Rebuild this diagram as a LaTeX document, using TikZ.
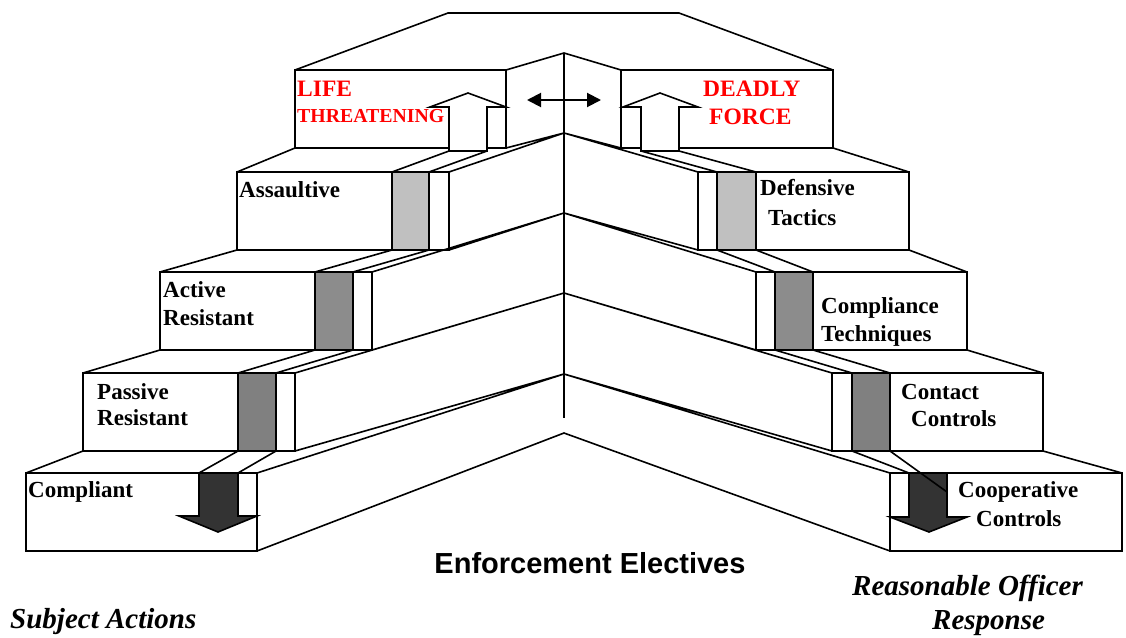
\documentclass[tikz,border=0pt]{standalone}
\usepackage{fontspec}
\setmainfont{Liberation Serif}
\newfontfamily\headfont{Liberation Sans}
\usetikzlibrary{arrows.meta,positioning,calc}

\definecolor{stepgreyA}{HTML}{C0C0C0}
\definecolor{stepgreyB}{HTML}{8C8C8C}
\definecolor{stepgreyC}{HTML}{808080}
\definecolor{stepdark}{HTML}{333333}

\tikzset{
  stepbox/.style={draw, line width=1.6pt, fill=white, inner sep=0pt, outer sep=0pt,
    anchor=north west, minimum width=#1, minimum height=78pt},
  stepbox/.default=211pt,
  colbox/.style={draw, line width=1.6pt, inner sep=0pt, outer sep=0pt,
    anchor=north west, minimum width=38pt, minimum height=78pt},
  ghost/.style={inner sep=0pt, outer sep=0pt, minimum width=38pt},
  edge/.style={line width=1.6pt},
  steplabel/.style={font=\fontsize{23}{26}\selectfont\bfseries, anchor=base west, inner sep=0pt},
  redlabel/.style={font=\fontsize{23.5}{26}\selectfont\bfseries, text=red, anchor=base west, inner sep=0pt},
  bigitalic/.style={font=\fontsize{29}{32}\selectfont\bfseries\itshape, anchor=base west, inner sep=0pt},
}

\begin{document}
\begin{tikzpicture}[x=1pt, y=-1pt]
\useasboundingbox (0,0) rectangle (1126,637);

% centre ridge points
\coordinate (A0) at (564,53);
\coordinate (A1) at (564,133);
\coordinate (A2) at (564,213);
\coordinate (A3) at (564,293);
\coordinate (A4) at (564,374);
\coordinate (A5) at (564,433);
\coordinate (Aend) at (564,418);
\coordinate (roofL) at (448,13);
\coordinate (roofR) at (679,13);

% left stair: subject actions
\node[stepbox] (L1) at (295,70) {};
\node[stepbox=212pt] (L2) at (237,172) {};
\node[stepbox=212pt] (L3) at (160,272) {};
\node[stepbox=212pt] (L4) at (83,373) {};
\node[stepbox=231pt] (L5) at (26,473) {};

% right stair: officer response
\node[stepbox=212pt] (R1) at (621,70) {};
\node[stepbox] (R2) at (698,172) {};
\node[stepbox] (R3) at (756,272) {};
\node[stepbox] (R4) at (832,373) {};
\node[stepbox=232pt] (R5) at (890,473) {};

% grey columns
\node[colbox, fill=stepgreyA, minimum width=37pt] (L2c) at (392,172) {};
\node[colbox, fill=stepgreyB] (L3c) at (315,272) {};
\node[colbox, fill=stepgreyC] (L4c) at (238,373) {};
\node[colbox, fill=stepgreyA, minimum width=39pt] (R2c) at (717,172) {};
\node[colbox, fill=stepgreyB] (R3c) at (775,272) {};
\node[colbox, fill=stepgreyC] (R4c) at (852,373) {};

% arrow shafts (only used as anchors)
\node[ghost, minimum height=44pt, anchor=south west] (L1c) at (449,151) {};
\node[ghost, minimum height=44pt, anchor=south west] (R1c) at (641,151) {};
\node[ghost, minimum width=39pt, minimum height=43pt, anchor=north west] (L5c) at (199,473) {};
\node[ghost, minimum height=44pt, anchor=north west] (R5c) at (909,473) {};
\coordinate (R5cross) at (947,492);

% roof and ridge
\draw[edge] (L1.north west) -- (roofL) -- (roofR) -- (R1.north east);
\draw[edge] (L1.north east) -- (A0) -- (R1.north west);
\draw[edge] (A0) -- (Aend);

% steps receding to the centre
\foreach \u/\l/\a in {L1/L2/A1, L2/L3/A2, L3/L4/A3, L4/L5/A4} {
  \draw[edge] (\u.south west) -- (\l.north west);
  \draw[edge] (\u.south east) -- (\a) -- (\l.north east);
}
\foreach \u/\l/\a in {R1/R2/A1, R2/R3/A2, R3/R4/A3, R4/R5/A4} {
  \draw[edge] (\u.south east) -- (\l.north east);
  \draw[edge] (\u.south west) -- (\a) -- (\l.north west);
}
\draw[edge] (L5.south east) -- (A5) -- (R5.south west);

% column edges from step to step
\foreach \u/\l in {L1c/L2c, L2c/L3c, L3c/L4c, L4c/L5c, R1c/R2c, R2c/R3c, R3c/R4c} {
  \draw[edge] (\u.south west) -- (\l.north west);
  \draw[edge] (\u.south east) -- (\l.north east);
}
\draw[edge] (R4c.south west) -- (R5c.north west);

% up arrows on the top step
\draw[edge, fill=white] (L1c.south west) -- (L1c.north west) -- ++(-19,0)
  -- (468,93) -- (506,107) -- (L1c.north east) -- (L1c.south east) -- cycle;
\draw[edge, fill=white] (R1c.south west) -- (R1c.north west) -- ++(-18,0)
  -- (660,93) -- (698,107) -- (R1c.north east) -- (R1c.south east) -- cycle;

% down arrows on the bottom step
\draw[edge, fill=stepdark] (L5c.north west) -- (L5c.south west) -- ++(-20,0)
  -- (218,532) -- (257,516) -- (L5c.south east) -- (L5c.north east) -- cycle;
\draw[edge, fill=stepdark] (R5c.north west) -- (R5c.south west) -- (890,517)
  -- (929,532) -- (967,517) -- (R5c.south east) -- (R5c.north east) -- cycle;
\draw[edge] (R4c.south east) -- (R5cross);

% both ways at the top
\coordinate (dl) at (527,100);
\coordinate (dr) at (601,100);
\draw[line width=2pt, {Triangle[length=14pt,width=14pt]}-{Triangle[length=14pt,width=14pt]}] (dl) -- (dr);

% labels
\node[redlabel] (life) at (297,96) {LIFE};
\node[redlabel, font=\fontsize{19.8}{22}\selectfont\bfseries] (threat) at (297,122) {THREATENING};
\node[redlabel] (deadly) at (703,96) {DEADLY};
\node[redlabel] (force) at (709,124) {FORCE};

\node[steplabel] (tAss) at (239,197) {Assaultive};
\node[steplabel] (tAct) at (163,297) {Active};
\node[steplabel] (tActR) at (163,325) {Resistant};
\node[steplabel] (tPas) at (97,399) {Passive};
\node[steplabel] (tPasR) at (97,425) {Resistant};
\node[steplabel] (tComp) at (28,497) {Compliant};

\node[steplabel] (tDef) at (760,195) {Defensive};
\node[steplabel] (tDefT) at (768,225) {Tactics};
\node[steplabel] (tCmp) at (821,313) {Compliance};
\node[steplabel] (tCmpT) at (821,341) {Techniques};
\node[steplabel] (tCon) at (901,399) {Contact};
\node[steplabel] (tConC) at (911,426) {Controls};
\node[steplabel] (tCoop) at (958,497) {Cooperative};
\node[steplabel] (tCoopC) at (976,526) {Controls};

\node[font=\headfont\bfseries\fontsize{29}{32}\selectfont, anchor=base, inner sep=0pt] (title) at (590,573) {Enforcement Electives};
\node[bigitalic] (subj) at (10,628) {Subject Actions};
\node[bigitalic] (resp1) at (852,595) {Reasonable Officer};
\node[bigitalic] (resp2) at (932,629) {Response};
\end{tikzpicture}
\end{document}
